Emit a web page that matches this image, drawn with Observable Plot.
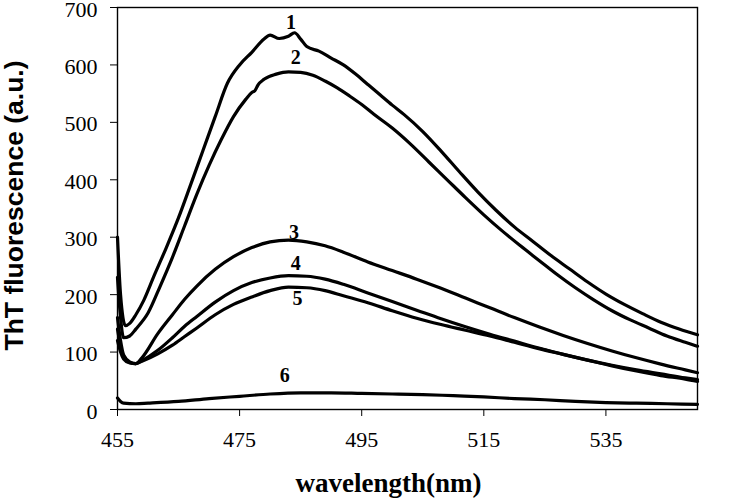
<!DOCTYPE html>
<html>
<head>
<meta charset="utf-8">
<script src="https://cdn.jsdelivr.net/npm/d3@7"></script>
<script src="https://cdn.jsdelivr.net/npm/@observablehq/plot@0.6"></script>
<style>
  html, body { margin: 0; padding: 0; background: #fff; }
</style>
</head>
<body>
<div id="chart"></div>
<script>
// ---- data ----
const xTicks = [455, 475, 495, 515, 535];
const yTicks = [0, 100, 200, 300, 400, 500, 600, 700];

const wl1 = [455,455.5,456.3,457,458,459.3,461,463,465,467,469,471,473,475,477,479,480,481.5,483,484,485,486,488,490,492,494,496,498,500,502,505,508,511,514,517,520,523,526,529,532,535,538,541,544,547,550];
const f1  = [300,200,146,150,165,190,233,282,334,392,451,510,568,600,622,645,652,646,650,656,645,632,624,612,600,584,566,548,530,513,484,450,414,379,347,318,293,268,245,222,201,183,167,152,140,130];

const wl2 = [455,455.5,456,457,458,460,462,464,466,468,470,472,474,476,477,477.5,478,479,481,483,485,487,489,491,493,495,497,500,503,506,509,512,515,518,521,524,527,530,533,536,539,542,545,548,550];
const f2  = [230,160,125,128,140,168,215,265,320,375,425,470,510,540,552,555,565,575,584,588,587,582,572,560,546,531,514,490,462,431,400,369,339,311,285,260,235,212,191,172,156,142,128,117,110];

const wl345 = [455,455.5,456,457,458,459,461.6,464,466,468,471,474,477,480,483,486,489,492,496,500,504,508,512,516,520,524,528,532,536,540,544,548,550];
const f3 = [160,120,95,83,80,90,132,165,192,215,244,266,282,292,295,292,285,274,257,242,227,211,194,177,160,144,129,115,102,90,79,69,64];
const f4 = [140,110,92,82,80,85,103,125,145,162,187,207,221,229,233,232,227,218,203,188,173,158,144,131,119,107,96,86,77,69,62,55,52];
const f5 = [120,100,88,81,80,84,97,112,127,142,165,183,196,207,213,212,207,198,186,172,159,148,138,128,117,106,96,86,76,67,59,53,49];

const wl6 = [455,455.5,456,458,460,465,470,475,480,485,490,495,500,505,510,515,520,525,530,535,540,545,550];
const f6  = [20,14,11,10,11,14,19,23,27,29,29,28,27,26,24,22,19,17,14,12,11,10,9];

const labelText = ["1", "2", "3", "4", "5", "6"];
const labelX    = [483.4, 484.2, 483.9, 484.2, 484.5, 482.4];
const labelY    = [674, 613, 308, 254, 193, 59];

const xTitle = "wavelength(nm)";
const yTitle = "ThT fluorescence (a.u.)";

// ---- build table ----
const series = [
  ["1", wl1, f1], ["2", wl2, f2], ["3", wl345, f3],
  ["4", wl345, f4], ["5", wl345, f5], ["6", wl6, f6]
];
const rows = series.flatMap(([s, xs, ys]) => xs.map((x, i) => ({s, x, y: ys[i]})));
const labels = labelText.map((t, i) => ({t, x: labelX[i], y: labelY[i]}));

const chart = Plot.plot({
  width: 740,
  height: 501,
  marginLeft: 117,
  marginRight: 43,
  marginTop: 7,
  marginBottom: 92,
  style: {background: "#fff", color: "#000", fontFamily: "Liberation Serif", fontSize: "22px", overflow: "visible"},
  x: {domain: [455, 550]},
  y: {domain: [0, 700]},
  marks: [
    Plot.axisX({ticks: xTicks, tickSize: 7, tickPadding: 15, tickFormat: d => String(d), label: null,
                fontSize: 22, fontFamily: "Liberation Serif"}),
    Plot.axisY({ticks: yTicks, tickSize: 7, text: null, label: null}),
    Plot.axisY({ticks: yTicks, tickSize: 0, tickPadding: 20, tickFormat: d => String(d), label: null,
                fontSize: 22, fontFamily: "Liberation Serif", dy: 2}),
    Plot.line(rows, {x: "x", y: "y", z: "s", stroke: "#000", strokeWidth: 3.2, curve: "monotone-x",
                     strokeLinejoin: "round", strokeLinecap: "round"}),
    Plot.frame({stroke: "#000", strokeWidth: 1.4}),
    Plot.text(labels, {x: "x", y: "y", text: "t", fontSize: 20, fontWeight: "bold",
                       fontFamily: "Liberation Serif", fill: "#000"}),
    Plot.text([xTitle], {frameAnchor: "bottom", textAnchor: "middle", dx: -19, dy: 82, fontSize: 27, fontWeight: "bold",
                         fontFamily: "Liberation Serif", fill: "#000"}),
    Plot.text([yTitle], {frameAnchor: "left", textAnchor: "middle", rotate: -90, dx: -103, dy: -3, fontSize: 26.5, fontWeight: "bold",
                         fontFamily: "Liberation Sans", fill: "#000"})
  ]
});
document.getElementById("chart").appendChild(chart);
</script>
</body>
</html>
